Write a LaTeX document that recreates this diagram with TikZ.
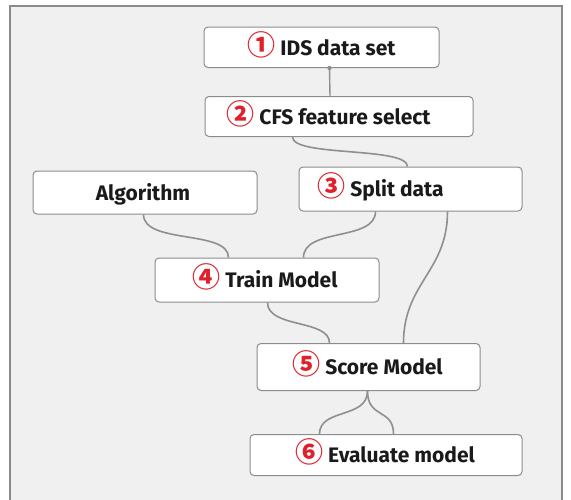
\documentclass[tikz,border=0pt]{standalone}
\usepackage{fontspec}
\setmainfont{Fira Sans}
\newfontfamily\circfont{Noto Sans CJK KR}
\usetikzlibrary{calc}
\definecolor{bgcol}{HTML}{F0F0F0}
\definecolor{framecol}{HTML}{8A8A8A}
\definecolor{boxcol}{HTML}{8C8C8C}
\definecolor{wirecol}{HTML}{8F8F8F}
\definecolor{numred}{HTML}{E0202A}
\definecolor{txtcol}{HTML}{1A1A1A}
\newcommand{\cnum}[1]{{\color{numred}\circfont\fontsize{28}{28}\selectfont #1}\hspace{5pt}}
\tikzset{
  box/.style={draw=boxcol, line width=1pt, fill=white, rounded corners=4pt, inner sep=0pt},
  lbl/.style={text=txtcol, font=\bfseries\fontsize{21}{21}\selectfont, inner sep=0pt, anchor=base},
  wire/.style={draw=wirecol, line width=1.6pt},
}
\begin{document}
\begin{tikzpicture}[x=1pt,y=-1pt]
\useasboundingbox (0,0) rectangle (571,499);
\fill[white] (0,0) rectangle (571,499);
\filldraw[fill=bgcol, draw=framecol, line width=1.5pt] (10,510) -- (10,6) -- (562,6) -- (562,510);
% boxes
\node[box, minimum width=235pt, minimum height=40.5pt] (n1) at (321.5,47.25) {};
\node[box, minimum width=268pt, minimum height=40pt] (n2) at (339,116.5) {};
\node[box, minimum width=224pt, minimum height=43pt] (alg) at (145,192.5) {};
\node[box, minimum width=223pt, minimum height=44pt] (n3) at (410.5,189) {};
\node[box, minimum width=224pt, minimum height=44pt] (n4) at (267,280) {};
\node[box, minimum width=223pt, minimum height=47pt] (n5) at (368.5,367) {};
\node[box, minimum width=272pt, minimum height=41pt] (n6) at (386,455) {};
% labels (baseline = box centre + half cap height)
\node[lbl] (t1) at (321.5,55) {\cnum{①}IDS data set};
\node[lbl] (t2) at (328.5,124) {\cnum{②}CFS feature select};
\node[lbl] (ta) at (143,200) {Algorithm};
\node[lbl] (t3) at (380.5,196.5) {\cnum{③}Split data};
\node[lbl] (t4) at (265,287.5) {\cnum{④}Train Model};
\node[lbl] (t5) at (367.5,374.5) {\cnum{⑤}Score Model};
\node[lbl] (t6) at (385,462.5) {\cnum{⑥}Evaluate model};
% ports
\coordinate (p1b) at ([xshift=8pt]n1.south);
\coordinate (p2t) at ([xshift=-9pt]n2.north);
\coordinate (p2b) at ([xshift=88pt]n2.south west);
\coordinate (p3t) at ([xshift=109pt]n3.north west);
\coordinate (pab) at ([xshift=111pt]alg.south west);
\coordinate (p4ta) at ([xshift=74pt]n4.north west);
\coordinate (p3ba) at ([xshift=77pt]n3.south west);
\coordinate (p4tb) at ([xshift=149pt]n4.north west);
\coordinate (p3bb) at ([xshift=149pt]n3.south west);
\coordinate (p5tb) at ([xshift=147pt]n5.north west);
\coordinate (p4b) at ([xshift=113pt]n4.south west);
\coordinate (p5ta) at ([xshift=73pt]n5.north west);
\coordinate (p5b) at ([xshift=111pt]n5.south west);
\coordinate (p6ta) at ([xshift=70pt]n6.north west);
\coordinate (p6tb) at ([xshift=144pt]n6.north west);
% wires
\draw[wire, line width=1.4pt] (p1b) -- (p2t);
\fill[wirecol] (p1b) circle (2.2pt);
\draw[wire] (p2b) .. controls +(0,20) and +(0,-20) .. (p3t);
\draw[wire] (pab) .. controls +(0,30) and +(0,-28) .. (p4ta);
\draw[wire] (p3ba) .. controls +(0,30) and +(0,-30) .. (p4tb);
\draw[wire] (p3bb) .. controls +(0,60) and +(0,-60) .. (p5tb);
\draw[wire] (p4b) .. controls +(0,26) and +(0,-24) .. (p5ta);
\draw[wire] (p5b) .. controls +(0,28) and +(0,-26) .. (p6ta);
\draw[wire] (p5b) .. controls +(0,28) and +(0,-26) .. (p6tb);
\end{tikzpicture}
\end{document}
